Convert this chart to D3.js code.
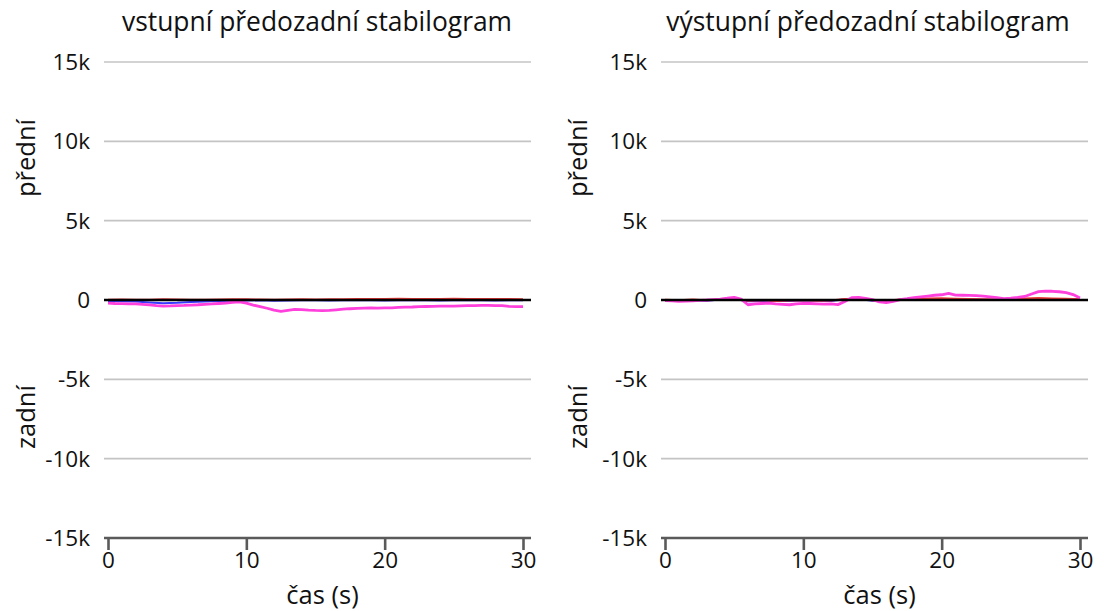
<!DOCTYPE html>
<html>
<head>
<meta charset="utf-8">
<script src="https://cdn.jsdelivr.net/npm/d3@7"></script>
<style>
  html, body { margin: 0; padding: 0; background: #fff; }
  svg { display: block; }
  text { font-family: "Open Sans", "Noto Sans", sans-serif; fill: #111; }
</style>
</head>
<body>
<svg id="chart" width="1104" height="611"></svg>
<script>
// Time samples (s)
const timeFine = d3.range(0, 30.01, 0.5);   // pink traces
const timeCoarse = d3.range(0, 30.01, 1);   // blue / red traces

const yTicks = [-15000, -10000, -5000, 0, 5000, 10000, 15000];
const xTicks = [0, 10, 20, 30];
const panelTitles = ["vstupní předozadní stabilogram", "výstupní předozadní stabilogram"];

// Input (vstupní) stabilogram
const inPink = [-200, -220, -230, -240, -250, -270, -310, -350, -380, -370,
  -350, -340, -320, -300, -270, -250, -220, -190, -150, -120,
  -200, -320, -420, -520, -640, -710, -650, -590, -610, -640,
  -660, -670, -660, -620, -580, -550, -530, -510, -500, -510,
  -500, -490, -470, -450, -440, -420, -410, -400, -390, -385,
  -380, -370, -360, -350, -345, -340, -350, -360, -400, -420, -420];
const inBlue = [-60, -80, -100, -150, -200, -180, -120, -90, -60, -40, -30, -20, -40, -30, -20, -10,
  -30, -20, -10, -20, -30, -20, -10, -20, -30, -20, -10, -20, -30, -20, -20];
const inRed = [20, 30, 10, 20, 40, 30, 20, 10, 30, 50, 40, 30, 20, 30, 40, 30,
  40, 50, 60, 70, 60, 80, 70, 60, 70, 80, 70, 60, 70, 60, 50];

// Output (výstupní) stabilogram
const outPink = [-40, -60, -80, -70, -50, -20, 0, 30, 60, 110,
  170, 60, -300, -250, -220, -200, -240, -270, -300, -250,
  -210, -220, -240, -260, -250, -290, -100, 150, 170, 100,
  20, -120, -170, -90, 20, 80, 150, 200, 250, 300,
  330, 420, 310, 300, 290, 280, 240, 200, 150, 90,
  110, 160, 220, 380, 530, 560, 550, 520, 460, 340, 120];
const outBlue = [-30, -60, -20, -40, 30, 60, -80, -60, -40, -70, -30, -50, -60, 40, 60, -40,
  -60, 20, 30, 40, 60, 40, 30, 20, 10, 20, 40, 50, 40, 30, 20];
const outRed = [20, -20, 30, -10, 40, 80, -40, -20, -60, -30, -20, -40, -30, 60, 80, -20,
  -40, 30, 60, 90, 110, 80, 60, 40, 30, 50, 90, 120, 100, 80, 40];

const panels = [
  { title: panelTitles[0], pink: inPink, blue: inBlue, red: inRed, x0: 108, x1: 523, labelX: 26, titleX: 317 },
  { title: panelTitles[1], pink: outPink, blue: outBlue, red: outRed, x0: 665, x1: 1080, labelX: 578, titleX: 868 }
];

const svg = d3.select("#chart");
const y = d3.scaleLinear().domain([-15000, 15000]).range([538, 62]);
const fmt = v => v === 0 ? "0" : (v / 1000) + "k";

panels.forEach(p => {
  const x = d3.scaleLinear().domain([0, 30]).range([p.x0, p.x1]);
  const g = svg.append("g");
  const gx0 = p.x0 - 4, gx1 = p.x1 + 8;

  // horizontal grid lines
  g.append("g").selectAll("line")
    .data(yTicks.filter(d => d !== -15000 && d !== 0))
    .join("line")
    .attr("x1", gx0).attr("x2", gx1)
    .attr("y1", d => y(d)).attr("y2", d => y(d))
    .attr("stroke", "#c4c4c4").attr("stroke-width", 1.6);

  // y tick labels
  g.append("g").selectAll("text")
    .data(yTicks)
    .join("text")
    .attr("x", p.x0 - 18)
    .attr("y", d => y(d))
    .attr("dy", "0.36em")
    .attr("text-anchor", "end")
    .attr("font-size", 22.5)
    .text(fmt);

  // bottom axis
  const ax = g.append("g")
    .attr("transform", `translate(0,${y(-15000)})`)
    .call(d3.axisBottom(x).tickValues(xTicks).tickSize(12).tickPadding(2).tickSizeOuter(0));
  ax.select(".domain").attr("d", `M${gx0},0H${gx1}`).attr("stroke", "#5a5a5a").attr("stroke-width", 2.6);
  ax.selectAll(".tick line").attr("stroke", "#5a5a5a").attr("stroke-width", 2.6);
  ax.selectAll(".tick text").attr("font-size", 22.5).attr("font-family", "\"Open Sans\", sans-serif").attr("fill", "#111");

  // traces
  const lineFine = d3.line().x((d, i) => x(timeFine[i])).y(d => y(d));
  const lineCoarse = d3.line().x((d, i) => x(timeCoarse[i])).y(d => y(d));
  g.append("path").datum(p.blue).attr("d", lineCoarse)
    .attr("fill", "none").attr("stroke", "#3a3aff").attr("stroke-width", 2);
  g.append("path").datum(p.red).attr("d", lineCoarse)
    .attr("fill", "none").attr("stroke", "#ee3a3a").attr("stroke-width", 2);
  g.append("path").datum(p.pink).attr("d", lineFine)
    .attr("fill", "none").attr("stroke", "#ff40dc").attr("stroke-width", 2.8)
    .attr("stroke-linejoin", "round");

  // zero line
  g.append("line")
    .attr("x1", gx0).attr("x2", gx1)
    .attr("y1", y(0)).attr("y2", y(0))
    .attr("stroke", "#000").attr("stroke-width", 2.6);

  // titles
  g.append("text")
    .attr("x", p.titleX).attr("y", 31)
    .attr("text-anchor", "middle").attr("font-size", 26.4)
    .text(p.title);
  g.append("text")
    .attr("x", (p.x0 + p.x1) / 2 + 7).attr("y", 604)
    .attr("text-anchor", "middle").attr("font-size", 25.5)
    .text("čas (s)");
  g.append("text")
    .attr("transform", `translate(${p.labelX + 9},${158}) rotate(-90)`)
    .attr("text-anchor", "middle").attr("font-size", 25.5)
    .text("přední");
  g.append("text")
    .attr("transform", `translate(${p.labelX + 9},${417}) rotate(-90)`)
    .attr("text-anchor", "middle").attr("font-size", 25.5)
    .text("zadní");
});
</script>
</body>
</html>
